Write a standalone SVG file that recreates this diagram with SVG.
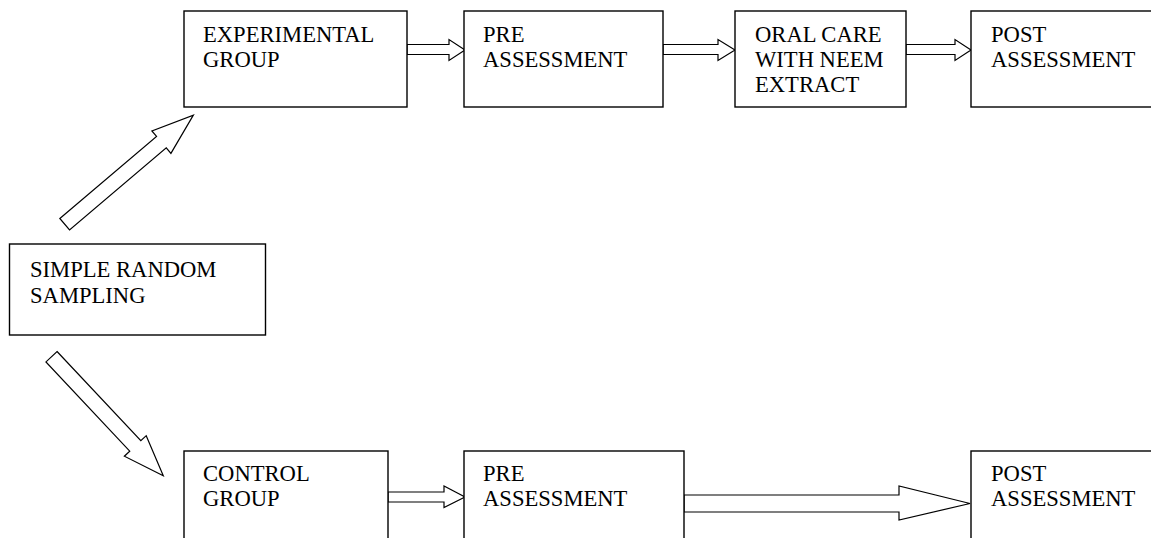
<svg xmlns="http://www.w3.org/2000/svg" width="1151" height="538" viewBox="0 0 1151 538">
<style>
.box{fill:#fff;stroke:#000;stroke-width:1.4}
.arr{fill:#fff;stroke:#000;stroke-width:1.2;stroke-linejoin:miter}
text{font-family:"Liberation Serif","Times New Roman",serif;font-size:22.6px;fill:#000}
</style>
<rect width="1151" height="538" fill="#fff"/>
<g id="connectors">
<polygon class="arr" points="407,44.5 449,44.5 449,39.5 465,50 449,60.5 449,54.5 407,54.5"/>
<polygon class="arr" points="663,44.5 718,44.5 718,39.5 735,50 718,60.5 718,54.5 663,54.5"/>
<polygon class="arr" points="906,44.5 955,44.5 955,39.5 971,50 955,60.5 955,54.5 906,54.5"/>
<polygon class="arr" points="388,492 444,492 444,486 465,497 444,507.5 444,502 388,502"/>
<polygon class="arr" points="684,495 899,495 899,486 970,503.5 899,520 899,512 684,512"/>
<polygon class="arr" transform="translate(64.7,224.2) rotate(-40.3)" points="0,-7.5 126.8,-7.5 126.8,-14.7 168.7,0 126.8,14.7 126.8,7.5 0,7.5"/>
<polygon class="arr" transform="translate(51.5,356.7) rotate(46.8)" points="0,-7.6 122.4,-7.6 122.4,-15 163.3,0 122.4,15 122.4,7.6 0,7.6"/>
</g>
<g id="experimental">
<rect class="box" x="184" y="11" width="223" height="96"/>
<text x="203" y="42">EXPERIMENTAL</text>
<text x="203" y="67">GROUP</text>
</g>
<g id="pre1">
<rect class="box" x="464" y="11" width="199" height="96"/>
<text x="483" y="42">PRE</text>
<text x="483" y="67">ASSESSMENT</text>
</g>
<g id="oral">
<rect class="box" x="735" y="11" width="171" height="96"/>
<text x="755" y="42">ORAL CARE</text>
<text x="755" y="67">WITH NEEM</text>
<text x="755" y="92">EXTRACT</text>
</g>
<g id="post1">
<rect class="box" x="971" y="11" width="200" height="96"/>
<text x="991" y="42">POST</text>
<text x="991" y="67">ASSESSMENT</text>
</g>
<g id="srs">
<rect class="box" x="9.5" y="244" width="256" height="91"/>
<text x="30" y="277">SIMPLE RANDOM</text>
<text x="30" y="303">SAMPLING</text>
</g>
<g id="control">
<rect class="box" x="184" y="451" width="204" height="110"/>
<text x="203" y="481">CONTROL</text>
<text x="203" y="506">GROUP</text>
</g>
<g id="pre2">
<rect class="box" x="464" y="451" width="220" height="110"/>
<text x="483" y="481">PRE</text>
<text x="483" y="506">ASSESSMENT</text>
</g>
<g id="post2">
<rect class="box" x="971" y="451" width="200" height="110"/>
<text x="991" y="481">POST</text>
<text x="991" y="506">ASSESSMENT</text>
</g>
</svg>
